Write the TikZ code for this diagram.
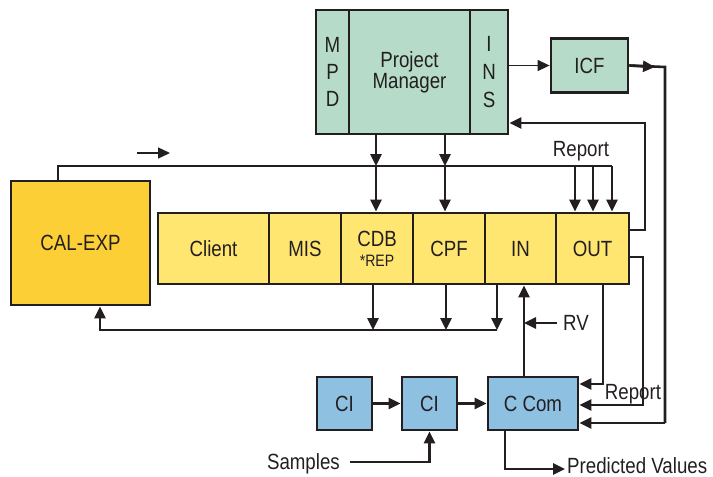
\documentclass[tikz,border=0pt]{standalone}
\usepackage{fontspec}
\setmainfont{Liberation Sans}[FakeStretch=0.85]
\usetikzlibrary{arrows.meta}
\definecolor{ink}{HTML}{231F20}
\definecolor{pmgreen}{HTML}{B6DBC9}
\definecolor{ciblue}{HTML}{8EC0E2}
\definecolor{baryellow}{HTML}{FEE670}
\definecolor{calyellow}{HTML}{FDCF36}
\begin{document}
\begin{tikzpicture}[x=1pt,y=-1pt,
  font=\fontsize{22}{24}\selectfont,
  box/.style={draw=ink, line width=2.8pt, inner sep=0pt, text=ink, align=center},
  green/.style={box, fill=pmgreen},
  blue/.style={box, fill=ciblue, minimum width=55pt, minimum height=53pt},
  cell/.style={box, fill=baryellow, minimum height=71pt},
  lbl/.style={text=ink, inner sep=0pt},
  thin/.style={draw=ink, line width=1.4pt},
  thick/.style={draw=ink, line width=2.6pt},
  tip/.style={-{Triangle[length=12pt,width=11pt]}}
]
\useasboundingbox (0,0) rectangle (713,477);

% Project manager group
\node[green, minimum width=33pt, minimum height=124pt, font=\fontsize{22}{27}\selectfont] (mpd) at (332.5,72) {M\\P\\D};
\node[green, minimum width=121pt, minimum height=124pt, font=\fontsize{22}{21}\selectfont] (pm) at (409.5,72) {Project\\Manager};
\node[green, minimum width=38pt, minimum height=124pt, font=\fontsize{22}{28}\selectfont] (ins) at (489,72) {I\\N\\S};
\node[green, minimum width=77pt, minimum height=54pt] (icf) at (589.5,65.5) {ICF};

% CAL-EXP
\node[box, fill=calyellow, minimum width=139pt, minimum height=124pt] (cal) at (80.5,243) {CAL-EXP};

% bar
\node[cell, minimum width=111pt] (client) at (213.5,248.5) {Client};
\node[cell, minimum width=72pt] (mis) at (305,248.5) {MIS};
\node[cell, minimum width=72pt] (cdb) at (377,248.5) {CDB\\[-4pt]{\fontsize{16.5}{17}\selectfont *REP}};
\node[cell, minimum width=72pt] (cpf) at (449,248.5) {CPF};
\node[cell, minimum width=71pt] (in) at (520.5,248.5) {IN};
\node[cell, minimum width=73pt] (out) at (592.5,248.5) {OUT};

% bottom blue boxes
\node[blue] (ci1) at (344.5,403.5) {CI};
\node[blue] (ci2) at (429.5,403.5) {CI};
\node[blue, minimum width=90pt] (ccom) at (533,403.5) {C Com};

% labels
\node[lbl] (rep1) at (581,151) {Report};
\node[lbl] (rep2) at (633,394) {Report};
\node[lbl, anchor=west] (rv) at (563,323) {RV};
\node[lbl, anchor=east] (samples) at (340,464) {Samples};
\node[lbl, anchor=west] (pred) at (567,466) {Predicted Values};

% coordinates
\coordinate (h1) at (376,166);
\coordinate (h2) at (445,166);
\coordinate (r1) at (575,166);
\coordinate (r2) at (593,166);
\coordinate (r3) at (612,166);
\coordinate (calt) at (58,166);
\coordinate (b1) at (373,330);
\coordinate (b2) at (446,330);
\coordinate (b3) at (497,330);
\coordinate (bl) at (100,330);
\coordinate (rvs) at (557,323);
\coordinate (rvt) at (524,323);
\coordinate (fa) at (137,153);
\coordinate (fb) at (170,153);
\coordinate (icfm) at (655,67);
\coordinate (icfc) at (665,67);
\coordinate (ss) at (350,462);
\coordinate (pv) at (565,469);

% top connectors
\draw[thin, tip] (ins.east |- icf.west) -- (icf.west);
\draw[thick] (icf.east) -- (icfc) -- (665,423) ;
\draw[thick, tip] (icf.east) -- (icfm);
\draw[thick, tip] (665,423) -- (ccom.east |- 0,423);
\draw[thick, tip] (out.east |- 0,230) -- (645,230) -- (645,123) -- (ins.east |- 0,123);
\draw[thick, tip] (out.east |- 0,257) -- (643,257) -- (643,405) -- (ccom.east |- 0,405);
\draw[thick, tip] (out.south -| 603,0) -- (603,384) -- (ccom.east |- 0,384);

% CAL-EXP top line and Report arrows
\draw[thin] (cal.north -| calt) -- (calt) -- (r3);
\draw[thick, tip] (r1) -- (r1 |- out.north);
\draw[thick, tip] (r2) -- (r2 |- out.north);
\draw[thick, tip] (r3) -- (r3 |- out.north);
\draw[thin, tip] (fa) -- (fb);

% PM arrows
\draw[thick, tip] (pm.south -| h1) -- (h1);
\draw[thick, tip] (h1) -- (h1 |- cdb.north);
\draw[thick, tip] (pm.south -| h2) -- (h2);
\draw[thick, tip] (h2) -- (h2 |- cpf.north);

% bottom of bar
\draw[thick, tip] (cdb.south -| b1) -- (b1);
\draw[thick, tip] (cpf.south -| b2) -- (b2);
\draw[thick, tip] (in.south -| b3) -- (b3);
\draw[thick, tip] (b3) -- (bl) -- (bl |- cal.south);

% IN / RV
\draw[thick, tip] (ccom.north -| rvt) -- (rvt |- in.south);
\draw[thick, tip] (rvs) -- (rvt);

% CI chain
\draw[thick, tip] (ci1.east) -- (ci2.west);
\draw[thick, tip] (ci2.east) -- (ccom.west);
\draw[thick, tip] (ss) -- (ss -| ci2.south) -- (ci2.south);
\draw[thick, tip] (ccom.south -| 505,0) -- (505,469) -- (pv);
\end{tikzpicture}
\end{document}
